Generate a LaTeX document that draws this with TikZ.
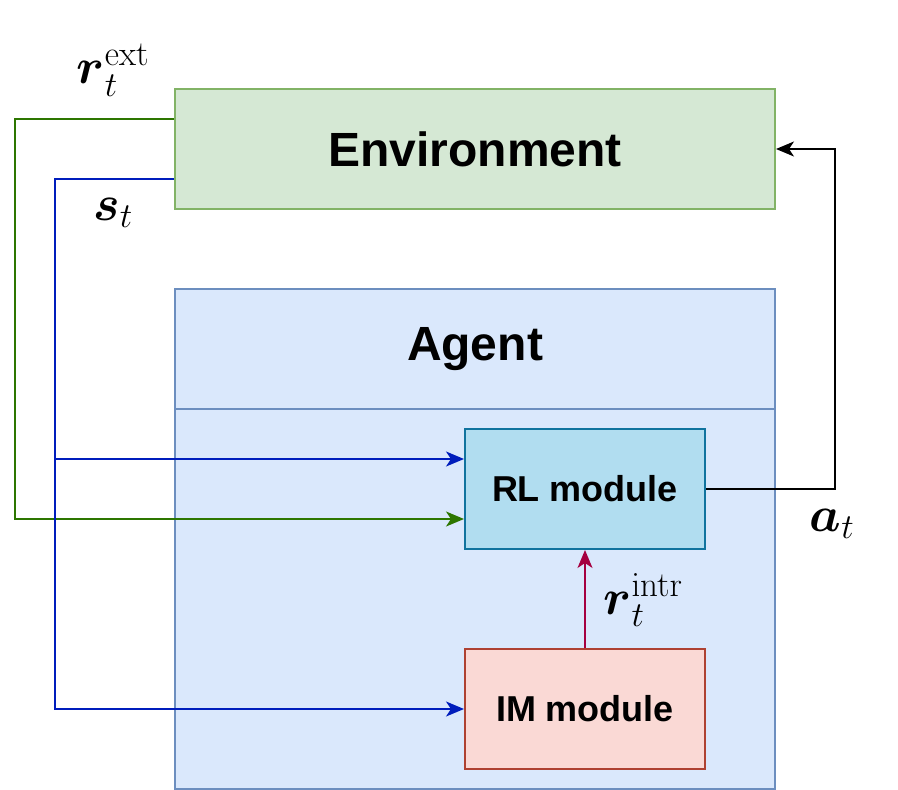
\RequirePackage{fix-cm}
\documentclass[tikz,border=0pt]{standalone}
\usepackage{amsmath}
\usepackage{amssymb}
\usepackage[no-math]{fontspec}
\setmainfont{Liberation Sans}
\usetikzlibrary{arrows.meta,positioning}
\definecolor{envfill}{HTML}{D5E8D4}
\definecolor{envline}{HTML}{82B366}
\definecolor{agfill}{HTML}{DAE8FC}
\definecolor{agline}{HTML}{6C8EBF}
\definecolor{rlfill}{HTML}{B1DDF0}
\definecolor{rlline}{HTML}{10739E}
\definecolor{imfill}{HTML}{FAD9D5}
\definecolor{imline}{HTML}{AE4132}
\definecolor{extline}{HTML}{2D7600}
\definecolor{stline}{HTML}{001DBC}
\definecolor{intrline}{HTML}{A50040}
\tikzset{
  box/.style={draw, line width=2pt, minimum width=600pt, minimum height=120pt, inner sep=0pt, font=\fontsize{48}{52}\selectfont\bfseries},
  modbox/.style={draw, line width=2pt, minimum width=240pt, minimum height=120pt, inner sep=0pt, font=\fontsize{36}{40}\selectfont\bfseries},
  wire/.style={line width=2pt, -{Stealth[length=18pt,width=15pt,inset=5pt]}},
  lbl/.style={font=\fontsize{50}{54}\selectfont}
}
\begin{document}
\begin{tikzpicture}[x=1pt,y=-1pt]
                      \useasboundingbox (0,0) rectangle (898,790);
                      \node[box, fill=envfill, draw=envline] (env) at (475,149) {Environment};
                      \node[box, fill=agfill, draw=agline, minimum height=500pt] (agent) at (475,539) {};
                      \node[box, fill=agfill, draw=agline, anchor=north] (agenthead) at (agent.north) {Agent};
                      \node[modbox, fill=rlfill, draw=rlline] (rl) at (585,489) {RL module};
                      \node[modbox, fill=imfill, draw=imline] (im) at (585,709) {IM module};
                      \coordinate (extcorner) at (15,519);
                      \coordinate (stcorner) at (55,709);
                      \coordinate (stbranch) at (55,459);
                      \coordinate (atcorner) at (835,489);

                      \draw[wire, extline] ([yshift=30pt]env.west) -| (extcorner) -- ([yshift=-30pt]rl.west);
                      \draw[wire, stline] ([yshift=-30pt]env.west) -| (stcorner) -- (im.west);
                      \draw[wire, stline] (stbranch) -- ([yshift=30pt]rl.west);
                      \draw[wire, black] (rl.east) -| (atcorner |- env.east) -- (env.east);
                      \draw[wire, intrline] (im.north) -- (rl.south);

                      \node[lbl] (rext) at (113,70) {$\boldsymbol{r}_t^{\mathrm{ext}}$};
                      \node[lbl] (st) at (113,213) {$\boldsymbol{s}_t$};
                      \node[lbl] (at) at (832,524) {$\boldsymbol{a}_t$};
                      \node[lbl] (rintr) at (643,600) {$\boldsymbol{r}_t^{\mathrm{intr}}$};
                  \end{tikzpicture}
\end{document}
